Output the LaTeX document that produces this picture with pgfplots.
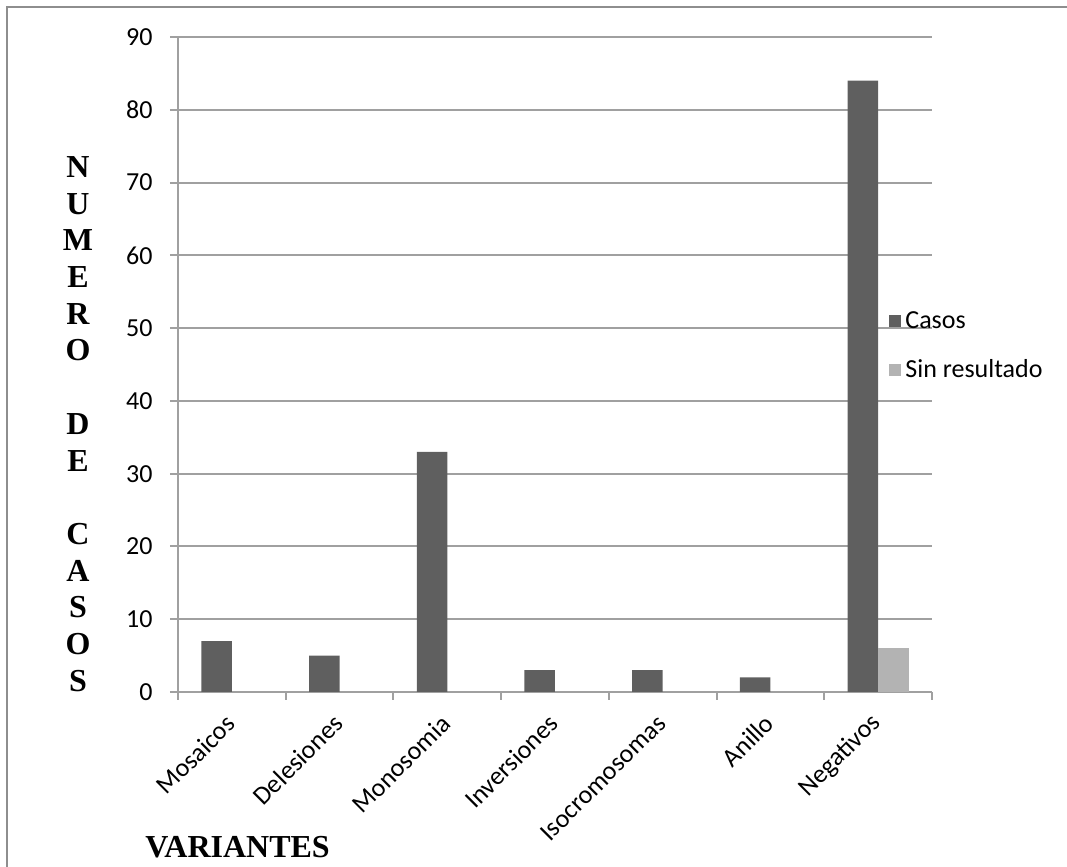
\documentclass[border=0pt]{standalone}
\usepackage{pgfplots}
\pgfplotsset{compat=1.18}
\usepackage{fontspec}
\setmainfont{Carlito}
\newfontfamily\tnr{Liberation Serif}
\definecolor{dark}{HTML}{5F5F5F}
\definecolor{light}{HTML}{B3B3B3}
\definecolor{gridgray}{HTML}{A0A0A0}
\definecolor{framegray}{HTML}{8E8E8E}
\begin{document}
\begin{tikzpicture}
\path[use as bounding box] (0pt,0pt) rectangle (533.5pt,433.5pt);
\draw[framegray, line width=1pt] (3.5pt,0pt) -- (3.5pt,430pt) -- (533.5pt,430pt);
\begin{axis}[
  at={(89pt,87.5pt)}, anchor=south west,
  scale only axis, width=377pt, height=327.5pt,
  xmin=-0.5, xmax=6.5, ymin=0, ymax=90,
  ybar=0pt, bar width=15.25pt,
  axis x line*=bottom, axis y line*=left,
  axis line style={gridgray, line width=1pt, -},
  xtick={-0.5,0.5,...,6.5}, xticklabels={},
  extra x ticks={0,1,2,3,4,5,6},
  extra x tick labels={Mosaicos,Delesiones,Monosomia,Inversiones,Isocromosomas,Anillo,Negativos},
  extra x tick style={major tick length=0pt,
    xticklabel style={xshift=-0.5pt, yshift=-13.5pt, rotate=45, anchor=east, inner sep=0pt}},
  ytick={0,10,...,90},
  ymajorgrids, grid style={gridgray, line width=1pt},
  tick align=outside,
  major tick length=4pt,
  tick style={gridgray, line width=1pt},
  /pgf/number format/assume math mode=true,
  tick label style={font=\fontsize{13}{15.6}\selectfont},
  yticklabel style={anchor=east, inner sep=0pt, xshift=-8.5pt},
  legend style={at={(0.943,0.588)}, anchor=north west, draw=none, fill=none,
    inner sep=0pt, font=\fontsize{13}{15.6}\selectfont, row sep=10pt},
  legend cell align=left,
  legend image code/.code={\draw[#1,/tikz/.cd,draw=none] (0pt,-3pt) rectangle (6pt,3pt);},
]
\addplot[fill=dark, draw=none] coordinates {(0,7) (1,5) (2,33) (3,3) (4,3) (5,2) (6,84)};
\addplot[fill=light, draw=none] coordinates {(6,6)};
\legend{Casos, Sin resultado}
\end{axis}
\foreach \L/\i in {N/0,U/1,M/2,E/3,R/4,O/5,D/7,E/8,C/10,A/11,S/12,O/13,S/14}{
  \node[font=\tnr\bfseries\fontsize{16}{19}\selectfont, inner sep=0pt] at (39pt, {(867-167-\i*36.7)*0.5pt}) {\L};
}
\node[font=\tnr\bfseries\fontsize{16}{19}\selectfont, inner sep=0pt, anchor=base west] at (72.5pt,4.5pt) {VARIANTES};
\end{tikzpicture}
\end{document}
